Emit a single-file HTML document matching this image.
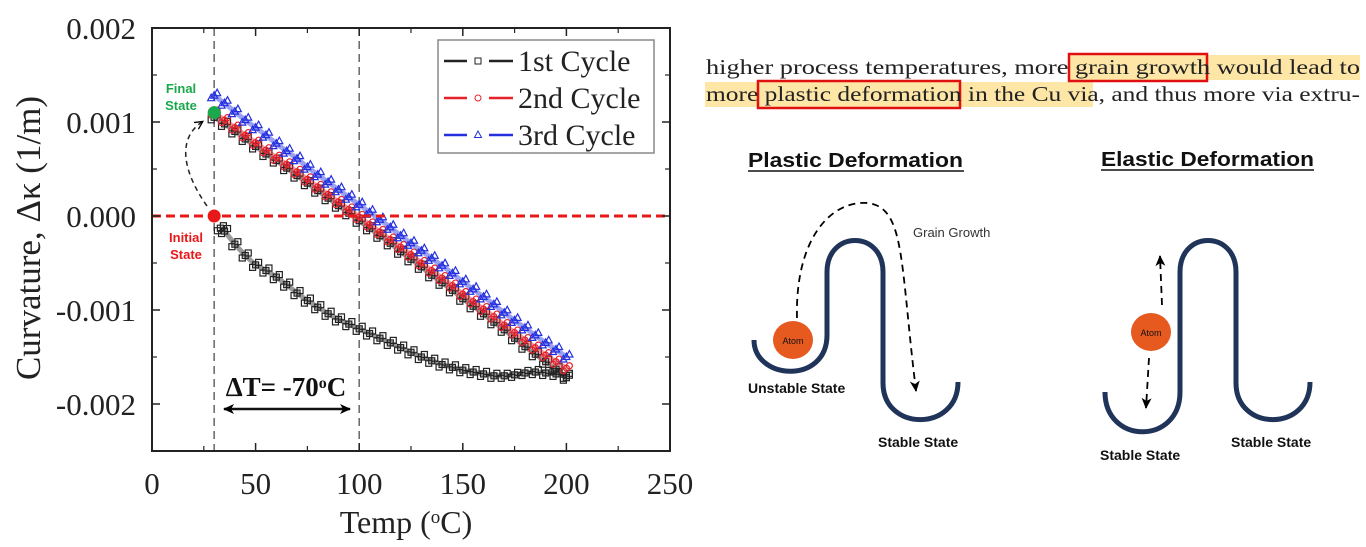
<!DOCTYPE html>
<html><head><meta charset="utf-8"><style>
body{margin:0;background:#fff;width:1366px;height:547px;overflow:hidden}
svg{display:block}
</style></head><body>
<svg width="1366" height="547" viewBox="0 0 1366 547" xmlns="http://www.w3.org/2000/svg">
<defs>
<marker id="ah" markerUnits="userSpaceOnUse" markerWidth="10" markerHeight="10" refX="7" refY="5" orient="auto"><path d="M0,1 L8,5 L0,9" fill="none" stroke="#000" stroke-width="1.3"/></marker>
<marker id="ahf" markerUnits="userSpaceOnUse" markerWidth="12" markerHeight="12" refX="10" refY="6" orient="auto-start-reverse"><path d="M0,1 L11,6 L0,11 L3,6z" fill="#000"/></marker>
</defs>
<g id="chart"></g>

<g font-family="Liberation Serif, serif" font-size="21" fill="#222">
<rect x="1069" y="55" width="291" height="25" fill="#fde6a6"/>
<rect x="705" y="82" width="388" height="25" fill="#fde6a6"/>
<rect x="1069" y="54" width="138" height="27" fill="none" stroke="#e01010" stroke-width="2.5"/>
<rect x="758" y="81" width="202" height="27" fill="none" stroke="#e01010" stroke-width="2.5"/>
<text x="706" y="74" textLength="654" lengthAdjust="spacingAndGlyphs">higher process temperatures, more grain growth would lead to</text>
<text x="706" y="101" textLength="654" lengthAdjust="spacingAndGlyphs">more plastic deformation in the Cu via, and thus more via extru-</text>
</g>

<g font-family="Liberation Sans, sans-serif" font-weight="bold" fill="#111">
<text x="748" y="167" font-size="20" textLength="215" lengthAdjust="spacingAndGlyphs">Plastic Deformation</text>
<line x1="748" y1="171" x2="964" y2="171" stroke="#111" stroke-width="1.5"/>
<text x="1101" y="166" font-size="20" textLength="213" lengthAdjust="spacingAndGlyphs">Elastic Deformation</text>
<line x1="1101" y1="170" x2="1314" y2="170" stroke="#111" stroke-width="1.5"/>
</g>
<g fill="none" stroke="#1f3458" stroke-width="5">
<path d="M754,340 C754,380 827,385 827,335 L827,272 C827,230 883,230 883,272 L883,383 C883,432 958,432 958,382"/>
<path d="M1105,392 C1105,445 1180,445 1180,392 L1180,272 C1180,230 1236,230 1236,272 L1236,383 C1236,432 1310,432 1310,382"/>
</g>
<g fill="none" stroke="#000" stroke-width="1.8" stroke-dasharray="7,5">
<path d="M797,318 C795,240 830,200 868,203 C905,208 900,260 916,391" marker-end="url(#ahf)"/>
<path d="M1162,305 L1160,256" marker-end="url(#ahf)"/>
<path d="M1149,358 L1146,408" marker-end="url(#ahf)"/>
</g>
<ellipse cx="793" cy="340" rx="20" ry="19" fill="#e65a20"/>
<ellipse cx="1151" cy="332" rx="20" ry="19" fill="#e65a20"/>
<g font-family="Liberation Sans, sans-serif" fill="#111">
<text x="793" y="344" font-size="9" text-anchor="middle">Atom</text>
<text x="1151" y="336" font-size="9" text-anchor="middle">Atom</text>
<text x="913" y="237" font-size="13" fill="#333">Grain Growth</text>
<g font-weight="bold" font-size="14">
<text x="748" y="393">Unstable State</text>
<text x="878" y="447">Stable State</text>
<text x="1100" y="460">Stable State</text>
<text x="1231" y="447">Stable State</text>
</g></g>
</svg>
<script>
const temps=[30,35,40,45,50,55,60,65,70,75,80,85,90,95,100,105,110,115,120,125,130,135,140,145,150,155,160,165,170,175,180,185,190,195,200];
const cycle1Cool=[1.05,0.98,0.90,0.82,0.74,0.66,0.59,0.51,0.43,0.35,0.27,0.19,0.11,0.03,-0.05,-0.13,-0.21,-0.29,-0.38,-0.46,-0.54,-0.63,-0.71,-0.79,-0.88,-0.96,-1.04,-1.13,-1.21,-1.30,-1.39,-1.47,-1.55,-1.63,-1.72];
const cycle1HeatT=[33,35,40,45,50,55,60,65,70,75,80,85,90,95,100,105,110,115,120,125,130,135,140,145,150,155,160,165,170,175,180,185,190,195,200];
const cycle1Heat=[-0.13,-0.16,-0.30,-0.42,-0.52,-0.58,-0.65,-0.73,-0.82,-0.90,-0.97,-1.04,-1.10,-1.15,-1.20,-1.25,-1.30,-1.35,-1.40,-1.45,-1.50,-1.54,-1.58,-1.61,-1.64,-1.66,-1.68,-1.70,-1.70,-1.69,-1.67,-1.66,-1.67,-1.68,-1.70];
const cycle2=[1.10,1.02,0.94,0.86,0.78,0.70,0.62,0.55,0.47,0.39,0.31,0.23,0.15,0.07,-0.01,-0.09,-0.17,-0.25,-0.33,-0.41,-0.50,-0.58,-0.66,-0.74,-0.83,-0.91,-0.99,-1.07,-1.16,-1.24,-1.32,-1.40,-1.48,-1.55,-1.62];
const cycle3=[1.28,1.20,1.11,1.02,0.94,0.86,0.77,0.69,0.61,0.52,0.44,0.36,0.28,0.20,0.12,0.04,-0.04,-0.12,-0.21,-0.29,-0.37,-0.45,-0.53,-0.61,-0.70,-0.78,-0.86,-0.94,-1.03,-1.11,-1.19,-1.27,-1.35,-1.42,-1.50];
const xTicks=[0,50,100,150,200,250];
const yTicks=[0.002,0.001,0.000,-0.001,-0.002];
const yTickLabels=["0.002","0.001","0.000","-0.001","-0.002"];
const legendLabels=["1st Cycle","2nd Cycle","3rd Cycle"];

const NS="http://www.w3.org/2000/svg";
const L=152,R=670,T=28,B=451;
const X=v=>L+(v-0)/(250-0)*(R-L);
const Y=v=>216-v*94000;
const Yk=v=>Y(v/1000);
const g=document.getElementById('chart');
function mk(tag,attrs,parent){const e=document.createElementNS(NS,tag);for(const k in attrs)e.setAttribute(k,attrs[k]);(parent||g).appendChild(e);return e;}

let e=mk('line',{x1:X(30),x2:X(30),y1:T,y2:B,stroke:'#666','stroke-width':1.5,'stroke-dasharray':'8,5'});


e=mk('line',{x1:X(100),x2:X(100),y1:T,y2:B,stroke:'#666','stroke-width':1.5,'stroke-dasharray':'8,5'});



function series(ts,vals,color,shape,name){
  const grp=mk('g',{});
  
  
  mk('polyline',{points:ts.map((t,i)=>X(t)+','+Yk(vals[i])).join(' '),fill:'none',stroke:color,'stroke-width':5,'stroke-opacity':0.45},grp);
  ts.forEach((t,i)=>{
    const cx=X(t),cy=Yk(vals[i]);
    for(let d=-1;d<=1;d+=1){
      const ox=d*3, oy=-d*2.5;
      let m;
      if(shape==='sq') m=mk('rect',{x:cx+ox-3,y:cy+oy-3,width:6,height:6,fill:'none',stroke:color,'stroke-width':1.2},grp);
      else if(shape==='ci') m=mk('circle',{cx:cx+ox,cy:cy+oy,r:3,fill:'none',stroke:color,'stroke-width':1.2},grp);
      else m=mk('path',{d:`M${cx+ox},${cy+oy-4}L${cx+ox+3.5},${cy+oy+2.5}L${cx+ox-3.5},${cy+oy+2.5}Z`,fill:'none',stroke:color,'stroke-width':1.2},grp);
      
      
    }
  });
}
series(cycle1HeatT,cycle1Heat,'#222','sq','series-1st-cycle-heating');
series(temps,cycle1Cool,'#222','sq','series-1st-cycle-cooling');
series(temps,cycle2,'#e8202a','ci','series-2nd-cycle');
series(temps,cycle3,'#2430e0','tr','series-3rd-cycle');

e=mk('line',{x1:L,x2:R,y1:Y(0),y2:Y(0),stroke:'#e81818','stroke-width':3,'stroke-dasharray':'9,5'});



e=mk('rect',{x:L,y:T,width:R-L,height:B-T,fill:'none',stroke:'#222','stroke-width':2});


const font='Liberation Serif, serif';
xTicks.forEach(t=>{
  mk('line',{x1:X(t),x2:X(t),y1:B,y2:B-8,stroke:'#222','stroke-width':1.5});
  mk('line',{x1:X(t),x2:X(t),y1:T,y2:T+8,stroke:'#222','stroke-width':1.5});
  if(t<250){mk('line',{x1:X(t+25),x2:X(t+25),y1:B,y2:B-5,stroke:'#222','stroke-width':1.2});mk('line',{x1:X(t+25),x2:X(t+25),y1:T,y2:T+5,stroke:'#222','stroke-width':1.2});}
  const tx=mk('text',{x:X(t),y:494,'font-family':font,'font-size':31,'text-anchor':'middle',fill:'#222'});
  tx.textContent=t;
  
  
});
yTicks.forEach((v,i)=>{
  mk('line',{x1:L,x2:L+8,y1:Y(v),y2:Y(v),stroke:'#222','stroke-width':1.5});
  mk('line',{x1:R,x2:R-8,y1:Y(v),y2:Y(v),stroke:'#222','stroke-width':1.5});
  mk('line',{x1:L,x2:L+5,y1:Y(v-0.0005),y2:Y(v-0.0005),stroke:'#222','stroke-width':1.2});
  mk('line',{x1:R,x2:R-5,y1:Y(v-0.0005),y2:Y(v-0.0005),stroke:'#222','stroke-width':1.2});
  const tx=mk('text',{x:136,y:Y(v)+11,'font-family':font,'font-size':31,'text-anchor':'end',fill:'#222'});
  tx.textContent=yTickLabels[i];
  
  
});
let tt=mk('text',{x:406,y:533,'font-family':font,'font-size':32,'text-anchor':'middle',fill:'#222'});
tt.innerHTML='Temp (<tspan baseline-shift="super" font-size="19">o</tspan>C)';


tt=mk('text',{x:0,y:0,transform:'translate(40,238) rotate(-90)','font-family':font,'font-size':35,'text-anchor':'middle',fill:'#222'});
tt.textContent='Curvature, Δκ (1/m)';



const lg=mk('g',{});


mk('rect',{x:438,y:40,width:216,height:113,fill:'#fff',stroke:'#888','stroke-width':1.5},lg);
const lcol=['#222','#e8202a','#2430e0'],lsh=['sq','ci','tr'];
legendLabels.forEach((lab,i)=>{
  const y=61+i*37;
  const en=mk('g',{},lg);
  
  
  mk('line',{x1:444,x2:467,y1:y,y2:y,stroke:lcol[i],'stroke-width':2.5},en);
  mk('line',{x1:489,x2:513,y1:y,y2:y,stroke:lcol[i],'stroke-width':2.5},en);
  if(lsh[i]==='sq')mk('rect',{x:475,y:y-3,width:6,height:6,fill:'none',stroke:lcol[i]},en);
  else if(lsh[i]==='ci')mk('circle',{cx:478,cy:y,r:3,fill:'none',stroke:lcol[i]},en);
  else mk('path',{d:`M478,${y-4}L481.5,${y+2.5}L474.5,${y+2.5}Z`,fill:'none',stroke:lcol[i]},en);
  const t=mk('text',{x:518,y:y+10,'font-family':font,'font-size':30,fill:'#222'},en);
  t.textContent=lab;
});

e=mk('circle',{cx:X(30),cy:Yk(1.1),r:6.5,fill:'#1aa84c'});


e=mk('circle',{cx:X(30),cy:Y(0),r:6.5,fill:'#e81818'});


e=mk('path',{d:'M207,206 C185,175 175,140 202,122',fill:'none',stroke:'#222','stroke-width':1.5,'stroke-dasharray':'5,4','marker-end':'url(#ah)'});


const sf='Liberation Sans, sans-serif';
[['Final',93,'#1aa84c',181],['State',110,'#1aa84c',181],['Initial',242,'#e81818',186],['State',259,'#e81818',186]].forEach(a=>{
  const t=mk('text',{x:a[3],y:a[1],'font-family':sf,'font-size':13,'font-weight':'bold','text-anchor':'middle',fill:a[2]});
  t.textContent=a[0];
  
  
});
e=mk('text',{x:286,y:396,'font-family':font,'font-size':27,'font-weight':'bold','text-anchor':'middle',fill:'#111'});
e.innerHTML='ΔT= -70<tspan baseline-shift="super" font-size="16">o</tspan>C';


e=mk('line',{x1:224,x2:350,y1:409,y2:409,stroke:'#111','stroke-width':2.5,'marker-end':'url(#ahf)','marker-start':'url(#ahf)'});


</script>
</body></html>
